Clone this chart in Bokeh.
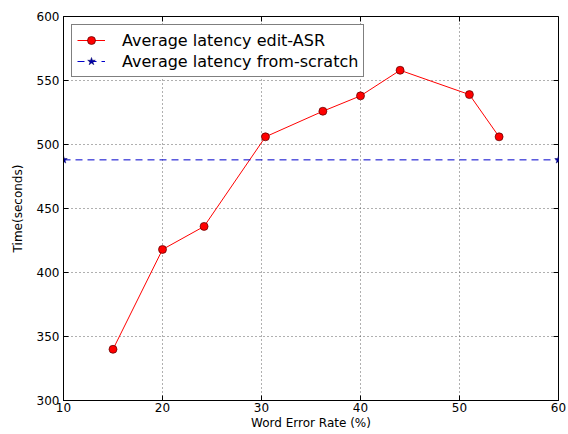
from bokeh.plotting import figure
from bokeh.models import Range1d, FixedTicker, Legend, LegendItem
from bokeh.embed import file_html
from bokeh.resources import INLINE

# Data
wer = [15.0, 20.0, 24.2, 30.4, 36.2, 40.0, 44.0, 51.0, 54.0]
latency_edit = [340, 418, 436, 506, 526, 538, 558, 539, 506]
scratch_x = [10, 60]
scratch_y = [488, 488]
x_ticks = [10, 20, 30, 40, 50, 60]
y_ticks = [300, 350, 400, 450, 500, 550, 600]
x_min, x_max = 10, 60
y_min, y_max = 300, 600

FONT = "DejaVu Sans"

p = figure(width=566, height=434, output_backend="svg", toolbar_location=None,
           x_range=Range1d(x_min, x_max), y_range=Range1d(y_min, y_max),
           min_border_left=63, min_border_top=16, min_border_right=8, min_border_bottom=34)
p.background_fill_color = "white"
p.border_fill_color = "white"
p.outline_line_color = "black"
p.outline_line_width = 1

for ax in (p.xaxis[0], p.yaxis[0]):
    ax.major_tick_in = 5
    ax.major_tick_out = 0
    ax.minor_tick_in = 0
    ax.minor_tick_out = 0
    ax.major_label_text_font = FONT
    ax.major_label_text_font_size = "12px"
    ax.major_label_text_color = "black"
    ax.axis_label_text_font = FONT
    ax.axis_label_text_font_size = "12px"
    ax.axis_label_text_font_style = "normal"
    ax.axis_label_text_color = "black"
    ax.axis_line_color = "black"
    ax.major_tick_line_color = "black"

p.xaxis[0].major_label_standoff = 2
p.xaxis[0].axis_label_standoff = 1
p.yaxis[0].major_label_standoff = 4
p.yaxis[0].axis_label_standoff = 9
p.xaxis[0].ticker = FixedTicker(ticks=x_ticks)
p.yaxis[0].ticker = FixedTicker(ticks=y_ticks)
p.xaxis[0].axis_label = "Word Error Rate (%)"
p.yaxis[0].axis_label = "Time(seconds)"

# inward tick marks on the top and right edges (clipped to the frame)
p.scatter(x_ticks, [y_max] * len(x_ticks), marker="dash", angle=1.5708, size=10,
          line_color="black", line_width=1)
p.scatter([x_max] * len(y_ticks), y_ticks, marker="dash", size=10,
          line_color="black", line_width=1)

p.xgrid.ticker = FixedTicker(ticks=x_ticks)
p.ygrid.ticker = FixedTicker(ticks=y_ticks)
for g in (p.xgrid, p.ygrid):
    g.grid_line_color = "#444444"
    g.grid_line_dash = "1 3"
    g.grid_line_width = 1
    g.grid_line_alpha = 0.85

l1 = p.line(wer, latency_edit, line_color="red", line_width=1)
c1 = p.scatter(wer, latency_edit, marker="circle", size=8, fill_color="red",
               line_color="#550000", line_width=0.7)
l2 = p.line(scratch_x, scratch_y, line_color="#0000cc", line_width=1, line_dash="7 5")
s2 = p.scatter(scratch_x, scratch_y, marker="star", size=8, fill_color="#0000aa",
               line_color="#000066", line_width=0.5)

legend = Legend(items=[
    LegendItem(label="Average latency edit-ASR", renderers=[l1, c1]),
    LegendItem(label="Average latency from-scratch", renderers=[l2, s2]),
], location="top_left")
legend.label_text_font = FONT
legend.label_text_font_size = "16px"
legend.label_text_color = "black"
legend.border_line_color = "black"
legend.border_line_width = 1
legend.background_fill_alpha = 1
legend.margin = 8
legend.padding = 5
legend.spacing = 1
legend.glyph_width = 28
legend.glyph_height = 20
legend.label_height = 20
legend.label_standoff = 17
p.add_layout(legend)

open("out.html", "w").write(file_html(p, INLINE))
